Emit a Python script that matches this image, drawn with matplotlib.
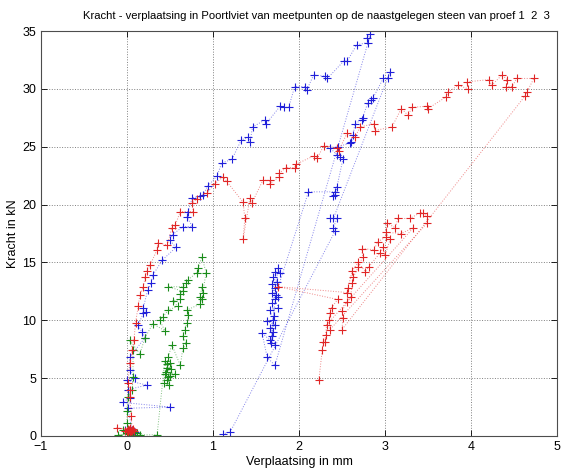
import matplotlib
matplotlib.use("Agg")
import matplotlib.pyplot as plt

plt.rcParams['font.family'] = ['Liberation Sans', 'DejaVu Sans']

# ---------------- data ----------------
blue_x = [0.02, 0.05, -0.02, 0.09, 0.03, 0.06, 0.01, 0.50, -0.05, 0.03, 0.01, 0.23, 0.00, 0.09, 0.03, 0.03,
          0.21, 0.17, 0.13, 0.19, 0.22, 0.19, 0.24, 0.28, 0.30, 0.41, 0.57, 0.50, 0.53, 0.65, 0.76, 0.70,
          0.71, 0.76, 0.85, 0.88, 0.94, 1.05, 1.10, 1.22, 1.33, 1.41, 1.43, 1.46, 1.60, 1.62, 1.78, 1.82,
          1.88, 1.95, 2.07, 2.09, 2.17, 2.30, 2.33, 2.52, 2.56, 2.67, 2.80, 2.79, 2.83,
          1.72, 1.63, 1.57, 1.66, 1.72, 1.69, 1.70, 1.66, 1.72, 1.63, 1.70, 1.66, 1.76, 1.72, 1.76, 1.69,
          1.72, 1.69, 1.74, 1.70, 1.72, 1.78, 1.76, 1.69, 1.71, 1.67, 1.73,
          2.11, 2.42, 2.44, 2.40, 2.42, 2.51, 2.48, 2.44, 2.36, 2.45, 2.59, 2.61, 2.63, 2.65, 2.73, 2.74,
          2.80, 2.84, 2.86, 2.98, 3.03, 3.06,
          2.40, 2.36, 2.44, 2.40, 2.42, 1.20, 1.12]
blue_y = [0.30, 0.45, 0.50, 0.35, 0.20, 0.50, 2.4, 2.5, 2.9, 3.3, 4.0, 4.4, 4.8, 5.0, 5.7, 6.8,
          8.5, 9.0, 9.6, 10.6, 10.7, 11.1, 12.6, 13.2, 13.9, 15.2, 16.3, 16.9, 17.4, 18.1, 18.1, 18.9,
          19.4, 20.6, 20.7, 20.8, 21.6, 22.5, 23.6, 23.9, 25.6, 25.8, 25.4, 26.7, 27.3, 27.0, 28.5, 28.4,
          28.4, 30.2, 30.2, 29.9, 31.2, 31.1, 30.9, 32.4, 32.4, 33.8, 34.0, 34.4, 34.7,
          6.1, 6.8, 8.9, 8.3, 7.9, 8.6, 9.0, 9.3, 9.6, 9.9, 10.0, 10.9, 11.1, 11.8, 12.0, 12.4,
          12.8, 13.1, 13.3, 13.7, 14.2, 14.1, 14.5, 11.5, 10.4, 8.0, 12.2,
          21.1, 21.1, 21.5, 20.7, 20.8, 23.9, 24.1, 24.3, 24.9, 25.0, 25.3, 25.4, 26.0, 27.0, 27.3, 27.5,
          28.8, 29.0, 29.2, 30.9, 30.9, 31.5,
          18.8, 18.8, 18.8, 18.0, 17.7, 0.35, 0.20]

green_x = [0.06, 0.12, -0.05, 0.02, -0.10, 0.08, 0.00, 0.00, 0.01, 0.06, 0.07, 0.07, 0.03, 0.15, 0.21,
           0.30, 0.44, 0.38, 0.42, 0.48, 0.59, 0.53, 0.62, 0.62, 0.65, 0.48, 0.65, 0.69, 0.71, 0.81, 0.83,
           0.87, 0.92, 0.88, 0.87, 0.85, 0.87, 0.85, 0.70, 0.71, 0.70, 0.67, 0.65, 0.69, 0.65, 0.62, 0.52,
           0.48, 0.50, 0.46, 0.44, 0.48, 0.46, 0.56, 0.45, 0.50, 0.47, 0.43, 0.49, 0.51, 0.44, 0.35, 0.15, 0.00]
green_y = [0.35, 0.30, 0.50, 0.20, 0.10, 0.10, 1.1, 2.2, 3.4, 4.0, 5.1, 7.4, 8.3, 7.1, 8.5,
           9.7, 9.1, 10.0, 10.3, 10.9, 11.2, 11.7, 11.8, 12.3, 12.5, 12.9, 12.9, 13.2, 13.5, 14.1, 14.5,
           15.5, 14.1, 12.4, 12.9, 12.0, 11.8, 11.4, 10.9, 10.5, 9.8, 9.2, 8.6, 8.0, 7.6, 6.1, 7.9,
           6.8, 6.3, 5.9, 5.4, 5.1, 4.8, 5.4, 5.5, 5.2, 6.2, 4.6, 4.4, 5.8, 6.5, 0.10, 0.10, 0.30]

red_x = [0.00, 0.02, -0.02, 0.04, 0.06, 0.01, -0.12, 0.03, 0.05, 0.08, 0.07, 0.01, 0.04, 0.06,
         0.05, 0.03, 0.03, 0.01, 0.03, 0.06,
         0.08, 0.10, 0.13, 0.15, 0.19, 0.21, 0.23, 0.27, 0.35, 0.36, 0.47, 0.52, 0.56, 0.62, 0.77, 0.76,
         0.81, 0.93, 1.02, 1.12, 1.16, 1.35, 1.37, 1.35, 1.43, 1.45, 1.58, 1.66, 1.66, 1.77, 1.77, 1.85,
         1.95, 1.97, 2.17, 2.21, 2.29, 2.44, 2.46, 2.56, 2.65, 2.71, 2.87, 2.88, 3.08, 3.19, 3.27, 3.31,
         3.49, 3.50, 3.71, 3.73, 3.85, 3.97, 3.95, 4.21, 4.24, 4.36, 4.42, 4.41, 4.48, 4.53, 4.73, 4.65, 4.63,
         2.50, 2.51, 2.50, 2.56, 2.60, 2.62, 2.63, 2.69, 2.74, 2.73, 2.87, 2.92, 3.01, 3.02, 3.12, 3.15,
         3.29, 3.41, 3.44, 3.49, 3.49,
         2.36, 2.35, 2.36, 2.38, 2.45, 1.76, 2.56, 2.57, 2.62, 2.69, 2.77, 2.81, 2.94, 2.98, 3.00, 3.06,
         3.01, 3.19, 3.33,
         2.32, 2.31, 2.30, 2.28, 2.27, 2.23]
red_y = [0.40, 0.50, 0.45, 0.35, 0.55, 0.60, 0.70, 0.50, 0.40, 0.45, 0.60, 0.35, 0.65, 0.42,
         1.7, 3.4, 4.0, 4.6, 6.3, 7.4,
         8.3, 9.8, 11.2, 12.2, 12.9, 13.7, 14.3, 14.8, 16.1, 16.7, 16.5, 18.0, 18.2, 19.4, 19.4, 20.1,
         20.5, 21.0, 21.8, 22.4, 22.0, 20.2, 18.8, 17.0, 20.6, 20.1, 22.1, 22.1, 21.8, 22.4, 22.7, 23.2,
         23.2, 23.5, 24.2, 24.0, 25.1, 24.9, 24.6, 26.2, 25.8, 26.7, 27.0, 26.4, 26.7, 28.3, 27.7, 28.4,
         28.5, 28.3, 29.3, 29.7, 30.3, 30.0, 30.6, 30.8, 30.3, 31.2, 30.8, 30.2, 30.2, 30.9, 30.9, 29.7, 29.4,
         9.2, 10.2, 10.8, 11.6, 12.0, 13.2, 13.7, 14.6, 15.5, 16.2, 16.1, 16.8, 17.2, 18.4, 18.0, 18.8,
         18.8, 19.3, 19.3, 19.0, 18.4,
         9.2, 10.0, 10.6, 11.1, 11.8, 12.9, 12.4, 12.8, 14.3, 15.0, 14.2, 14.6, 15.8, 16.3, 15.6, 17.0,
         17.6, 17.5, 18.0,
         9.6, 8.7, 8.1, 8.1, 7.4, 4.8]

title_text = "Kracht - verplaatsing in Poortlviet van meetpunten op de naastgelegen steen van proef 1  2  3"
x_label = "Verplaatsing in mm"
y_label = "Kracht in kN"
x_ticks = [-1, 0, 1, 2, 3, 4, 5]
y_ticks = [0, 5, 10, 15, 20, 25, 30, 35]

# ---------------- figure ----------------
fig = plt.figure(figsize=(5.61, 4.70), dpi=100)
ax = fig.add_axes([41 / 561, 34 / 470, 516 / 561, 405 / 470])

series = [(blue_x, blue_y, (0.12, 0.12, 0.85)),
          (green_x, green_y, (0.1, 0.55, 0.1)),
          (red_x, red_y, (0.88, 0.15, 0.15))]
for xs, ys, col in series:
    ax.plot(xs, ys, color=col, linestyle=':', linewidth=0.7, alpha=0.55)
    ax.plot(xs, ys, color=col, linestyle='none', marker='+', markersize=5.8, markeredgewidth=0.8)

ax.set_xlim(-1, 5)
ax.set_ylim(0, 35)
ax.set_xticks(x_ticks)
ax.set_yticks(y_ticks)
ax.grid(True, linestyle=':', color=(0.5, 0.5, 0.5), linewidth=0.7)
ax.tick_params(direction='in', top=True, right=True, length=4, width=0.6,
               labelsize=9, colors='black')
for s in ax.spines.values():
    s.set_color((0.3, 0.3, 0.3))
    s.set_linewidth(0.8)

fig.text(316 / 561, 1 - 16 / 470, title_text, fontsize=8.1, ha='center', va='center')
ax.set_xlabel(x_label, fontsize=9, labelpad=2)
ax.set_ylabel(y_label, fontsize=9, labelpad=2)

fig.savefig("out.png", dpi=100)
